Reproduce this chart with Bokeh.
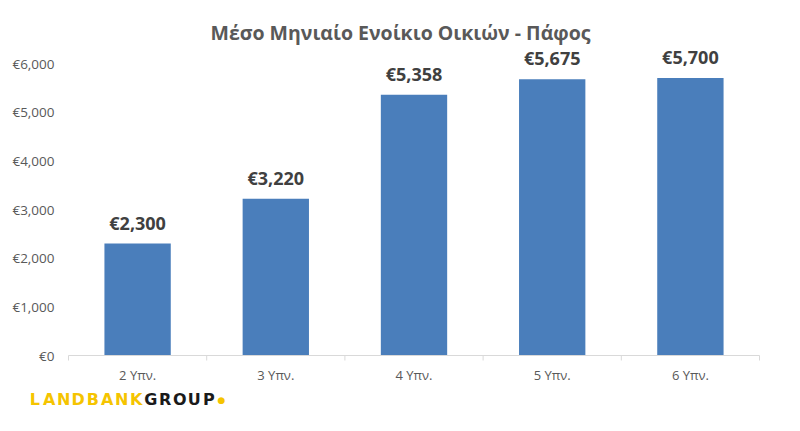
import numpy as np
from bokeh.plotting import figure
from bokeh.models import Range1d, Label, ColumnDataSource
from bokeh.core.properties import value
from bokeh.embed import file_html
from bokeh.resources import INLINE

categories = ["2 Υπν.", "3 Υπν.", "4 Υπν.", "5 Υπν.", "6 Υπν."]
rents = [2300, 3220, 5358, 5675, 5700]
y_ticks = [0, 1000, 2000, 3000, 4000, 5000, 6000]
title_text = "Μέσο Μηνιαίο Ενοίκιο Οικιών - Πάφος"
logo_yellow = "LANDBANK"
logo_black = "GROUP"

n = len(categories)
xc = [i + 0.5 for i in range(n)]
bounds = list(range(n + 1))
src = ColumnDataSource(dict(x=xc, top=rents, cat=categories,
                            lab=["€{:,}".format(v) for v in rents]))
tsrc = ColumnDataSource(dict(y=y_ticks, lab=["€{:,}".format(t) for t in y_ticks]))

W, H = 784, 415
left_px, right_px = 68, 759     # plot area edges on the canvas
zero_px, top_px = 355, 63       # y of 0 and of the top tick
sx = (right_px - left_px) / n
sy = (zero_px - top_px) / y_ticks[-1]
X0, X1 = -left_px / sx, n + (W - right_px) / sx
Y0, Y1 = -(H - zero_px) / sy, zero_px / sy

p = figure(width=W, height=H, output_backend="svg", toolbar_location=None,
           x_range=Range1d(X0, X1), y_range=Range1d(Y0, Y1),
           min_border=0)
p.outline_line_color = None
p.grid.grid_line_color = None
p.background_fill_color = "white"
p.border_fill_color = "white"
p.axis.visible = False

p.vbar(x="x", top="top", width=0.48, bottom=0, source=src,
       fill_color="#4a7ebb", line_color=None)
p.text(x="x", y="top", text="lab", source=src, text_align="center",
       text_baseline="bottom", y_offset=-9, text_font=value("Open Sans"),
       text_font_style="bold", text_font_size="18px", text_color="#404040")

# category axis (line, boundary ticks, labels)
p.segment(x0=[0], y0=[0], x1=[n], y1=[0], line_color="#d9d9d9", line_width=1)
p.segment(x0=bounds, y0=[0] * len(bounds), x1=bounds,
          y1=[-5 / sy] * len(bounds), line_color="#d9d9d9", line_width=1)
p.text(x="x", y=0, text="cat", source=src, text_align="center",
       text_baseline="middle", y_offset=19, text_font=value("Open Sans"),
       text_font_size="13px", text_color="#595959")

# value axis labels
p.text(x=0, y="y", text="lab", source=tsrc, text_align="right",
       text_baseline="middle", x_offset=-14, text_font=value("Open Sans"),
       text_font_size="13.5px", text_color="#595959")

p.add_layout(Label(x=400, y=H - 32, x_units="screen", y_units="screen",
                   text=title_text, text_align="center", text_baseline="alphabetic",
                   text_font="Open Sans", text_font_style="bold",
                   text_font_size="19.5px", text_color="#595959"))

# logo: widely spaced capitals
step = 14.5
start = 27 + step / 2
letters = [(ch, "#f5c400") for ch in logo_yellow] + [(ch, "#1a1a1a") for ch in logo_black]
for i, (ch, col) in enumerate(letters):
    p.add_layout(Label(x=start + i * step, y=H - 399, x_units="screen", y_units="screen",
                       text=ch, text_align="center", text_baseline="alphabetic",
                       text_font="DejaVu Sans", text_font_style="bold",
                       text_font_size="16px", text_color=col))
p.add_layout(Label(x=221, y=H - 399, x_units="screen", y_units="screen",
                   text="●", text_align="center", text_baseline="alphabetic",
                   text_font="DejaVu Sans", text_font_size="9px",
                   text_color="#f5c400"))

open("out.html", "w").write(file_html(p, INLINE))
